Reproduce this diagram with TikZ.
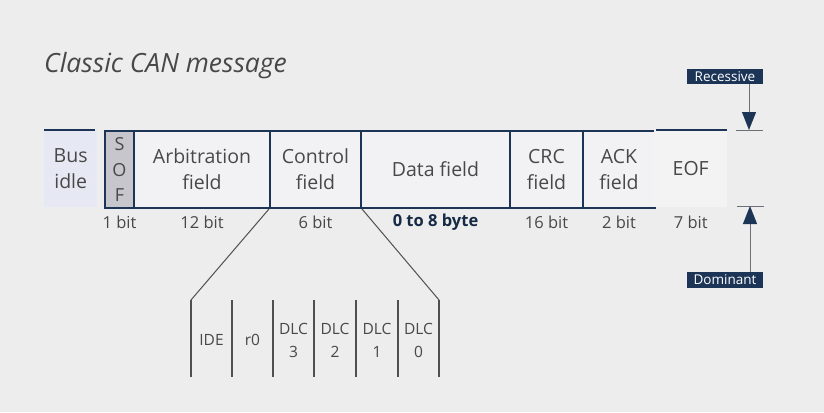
\documentclass[tikz,border=0pt]{standalone}
\usepackage{fontspec}
\setmainfont{Open Sans}
\usetikzlibrary{arrows.meta}
\definecolor{bg}{HTML}{EDEDED}
\definecolor{navy}{HTML}{1C3557}
\definecolor{txt}{HTML}{484848}
\definecolor{fieldfill}{HTML}{F2F2F4}
\definecolor{idlefill}{HTML}{E6E9F3}
\definecolor{soffill}{HTML}{C6C6CC}
\definecolor{eoffill}{HTML}{F3F3F3}
\definecolor{sub}{HTML}{505050}
\tikzset{
  fieldbox/.style={draw=navy, line width=2pt, fill=fieldfill, anchor=north west, minimum height=77pt, inner sep=0pt, text=txt, font=\fontsize{19.5}{26}\selectfont, align=center},
  plainbox/.style={anchor=north west, minimum height=77pt, inner sep=0pt, text=txt, font=\fontsize{19.5}{26}\selectfont, align=center},
  bitlab/.style={text=txt, font=\fontsize{16.5}{18}\selectfont},
  sublab/.style={text=txt, font=\fontsize{15.5}{23}\selectfont, align=center},
  navylab/.style={fill=navy, text=white, font=\fontsize{13.5}{14}\selectfont, minimum width=76pt, minimum height=15.5pt, inner sep=0pt},
  subline/.style={draw=sub, line width=1.1pt},
  levelarrow/.style={draw=gray!80!navy, line width=1pt, -{Triangle[width=14pt,length=18pt,fill=navy,color=navy]}},
  tick/.style={draw=gray!80!navy, line width=1pt}
}
\begin{document}
\begin{tikzpicture}[x=1pt,y=-1pt]
\fill[bg] (0,0) rectangle (824,412);
\useasboundingbox (0,0) rectangle (824,412);
% title
\node[anchor=west, inner sep=0pt, text=txt, font=\fontsize{26.5}{30}\selectfont\itshape] (title) at (44,66) {Classic CAN message};
% bus idle
\node[plainbox, fill=idlefill, minimum width=53pt] (idle) at (44,130) {Bus\\idle};
\draw[navy, line width=2pt] (idle.north west) -- ++(51,0);
% fields
\node[fieldbox, fill=soffill, minimum width=29pt, font=\fontsize{18}{25.5}\selectfont] (sof) at (104,130) {S\\O\\F};
\node[fieldbox, minimum width=136pt] (arb) at (133,130) {Arbitration\\field};
\node[fieldbox, minimum width=91pt] (ctrl) at (269,130) {Control\\field};
\node[fieldbox, minimum width=149pt] (data) at (360,130) {Data field};
\node[fieldbox, minimum width=73pt] (crc) at (509,130) {CRC\\field};
\node[fieldbox, minimum width=72pt] (ack) at (582,130) {ACK\\field};
\node[plainbox, fill=eoffill, minimum width=73pt] (eof) at (654,130) {EOF};
\draw[navy, line width=2pt] (ack.north east) -- (eof.north east);
% bit labels
\node[bitlab] (b1) at (sof.south |- 0,222) {1 bit};
\node[bitlab] (b2) at (arb.south |- 0,222) {12 bit};
\node[bitlab] (b3) at (ctrl.south |- 0,222) {6 bit};
\node[bitlab, font=\fontsize{16.5}{18}\selectfont\bfseries, text=navy!80!black] (b4) at (data.south |- 0,222) {0 to 8 byte};
\node[bitlab] (b5) at (crc.south |- 0,222) {16 bit};
\node[bitlab] (b6) at (ack.south |- 0,222) {2 bit};
\node[bitlab] (b7) at (eof.south |- 0,222) {7 bit};
% control sub-fields
\coordinate (s0) at (191,300);
\coordinate (s1) at (232,300);
\coordinate (s2) at (273,300);
\coordinate (s3) at (314,300);
\coordinate (s4) at (356,300);
\coordinate (s5) at (398,300);
\coordinate (s6) at (439,300);
\foreach \i in {0,...,6} { \draw[subline] (s\i) -- ++(0,77); }
\draw[sub, line width=1pt] (ctrl.south west) -- (s0);
\draw[sub, line width=1pt] (ctrl.south east) -- (s6);
\node[sublab] (ide) at (211.5,340) {IDE};
\node[sublab] (r0) at (252.5,340) {r0};
\node[sublab] (d3) at (293.5,340) {DLC\\3};
\node[sublab] (d2) at (335,340) {DLC\\2};
\node[sublab] (d1) at (377,340) {DLC\\1};
\node[sublab] (d0) at (418.5,340) {DLC\\0};
% recessive / dominant
\node[navylab] (rec) at (725,76.5) {Recessive};
\node[navylab] (dom) at (725,280) {Dominant};
\coordinate (rtick) at (749,130);
\coordinate (dtick) at (750,206);
\draw[tick] (736,130) -- (763,130);
\draw[tick] (737,206) -- (764,206);
\draw[levelarrow] (rec.south -| rtick) -- (rtick);
\draw[levelarrow] (dom.north -| dtick) -- (dtick);
\end{tikzpicture}
\end{document}
